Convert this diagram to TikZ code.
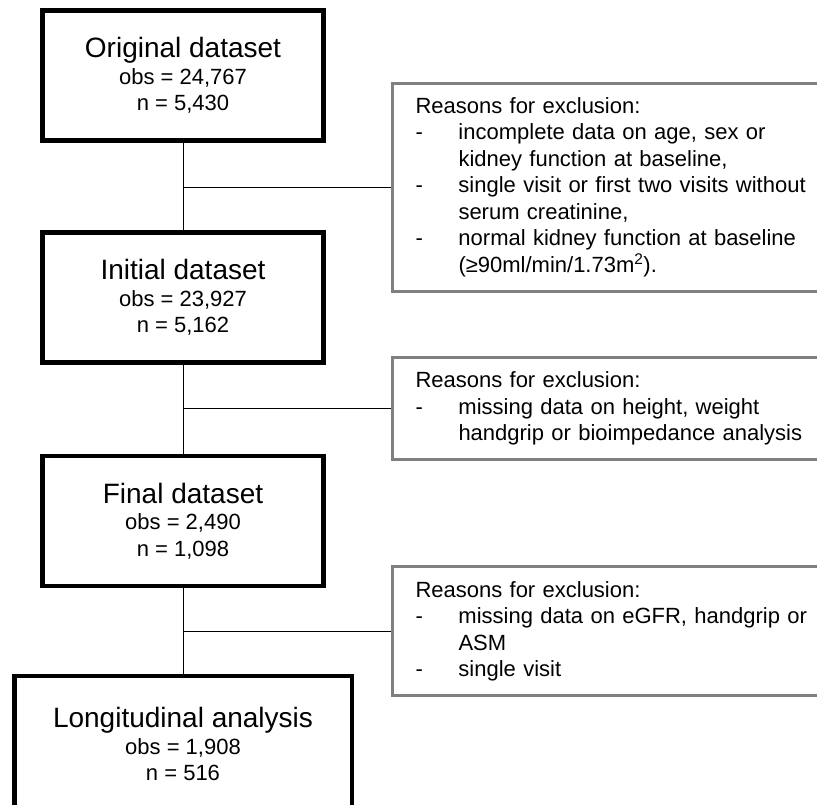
\documentclass[tikz,border=0pt]{standalone}
\usepackage{fontspec}
\setmainfont{Liberation Sans}
\usepackage{xcolor}
\usepackage{tikz}
\usetikzlibrary{positioning,calc}

\definecolor{exclgray}{gray}{0.5}
\newcommand{\dashitem}{\makebox[43pt][l]{-}}
\newcommand{\contitem}{\hspace*{43pt}}
\newcommand{\boxtitle}[1]{{\fontsize{28}{30}\selectfont #1}}

\begin{document}
\begin{tikzpicture}[x=1pt,y=-1pt,
    databox/.style={draw, line width=4.5pt, minimum width=281pt, minimum height=130pt,
        inner sep=0pt, align=center, font=\fontsize{22}{26.7}\selectfont},
    exclbox/.style={draw=exclgray, line width=3pt, anchor=west, minimum height=#1,
        text width=393pt, inner xsep=23.5pt, inner ysep=0pt, align=left,
        font=\fontsize{22}{26.5}\selectfont},
    link/.style={line width=0.8pt}]
    \useasboundingbox (0,0) rectangle (817,805);

    % Dataset boxes
    \node[databox] (orig) at (183,75.5) {\boxtitle{Original dataset}\\obs = 24,767\\n = 5,430};
    \node[databox] (init) at (183,297.5) {\boxtitle{Initial dataset}\\obs = 23,927\\n = 5,162};
    \node[databox] (final) at (183,521) {\boxtitle{Final dataset}\\obs = 2,490\\n = 1,098};
    \node[databox, minimum width=337.5pt, minimum height=136pt] (long) at (183,744) {\boxtitle{Longitudinal analysis}\\obs = 1,908\\n = 516};

    % Exclusion boxes
    \node[exclbox=207.7pt] (exclA) at (390.5,187.2) {Reasons for exclusion:\\
        \dashitem incomplete data on age, sex or\\
        \contitem kidney function at baseline,\\
        \dashitem single visit or first two visits without\\
        \contitem serum creatinine,\\
        \dashitem normal kidney function at baseline\\
        \contitem (≥90ml/min/1.73m\textsuperscript{2}).};
    \node[exclbox=102.5pt] (exclB) at (390.5,408.7) {Reasons for exclusion:\\
        \dashitem missing data on height, weight\\
        \contitem handgrip or bioimpedance analysis};
    \node[exclbox=129pt] (exclC) at (390.5,631.2) {Reasons for exclusion:\\
        \dashitem missing data on eGFR, handgrip or\\
        \contitem ASM\\
        \dashitem single visit};

    % Connectors
    \draw[link] (orig.south) -- (init.north);
    \draw[link] (init.south) -- (final.north);
    \draw[link] (final.south) -- (long.north);
    \draw[link] (exclA.west) -- (exclA.west -| orig.south);
    \draw[link] (exclB.west) -- (exclB.west -| init.south);
    \draw[link] (exclC.west) -- (exclC.west -| final.south);
\end{tikzpicture}
\end{document}
